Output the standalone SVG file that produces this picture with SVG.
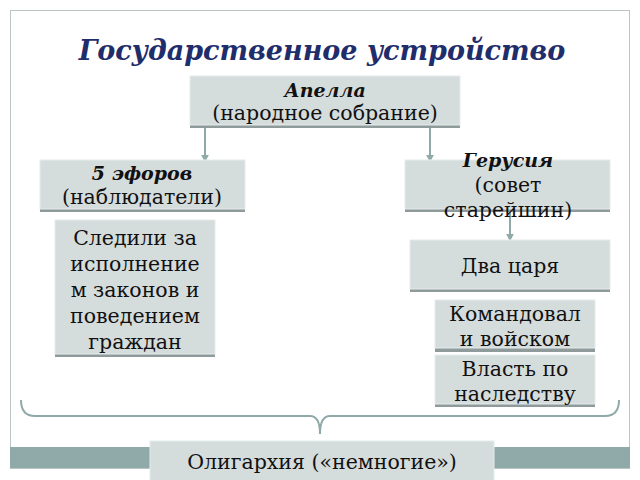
<svg xmlns="http://www.w3.org/2000/svg" width="640" height="480" viewBox="0 0 640 480">
<defs>
<style>
.b{fill:#d5dcdc;stroke:#e6ecec;stroke-width:1}
.s{fill:#8f9a9a}
text{font-family:"DejaVu Serif",serif;font-size:20.5px;fill:#111;text-anchor:middle}
.bi{font-weight:bold;font-style:italic;font-size:19px}
.c{stroke:#8faaa9;stroke-width:2;fill:none}
</style>
<marker id="a" viewBox="0 0 10 10" refX="8" refY="5" markerWidth="4" markerHeight="4" orient="auto"><path d="M0,0L10,5L0,10z" fill="#8faaa9"/></marker>
</defs>
<rect width="640" height="480" fill="#fff"/>
<rect x="10.5" y="10.5" width="619" height="458" fill="none" stroke="#b9c4c4"/>
<rect x="10" y="447" width="620" height="21" fill="#8faaa9"/>
<text x="322" y="60" class="bi" style="font-size:27px;fill:#1f2d6b">Государственное устройство</text>
<g id="conn">
<line class="c" x1="205" y1="127" x2="205" y2="161" marker-end="url(#a)"/>
<line class="c" x1="430" y1="127" x2="430" y2="161" marker-end="url(#a)"/>
<line class="c" x1="510" y1="212" x2="510" y2="240" marker-end="url(#a)"/>
<path class="c" d="M21,400 Q21,416 35,416 L310,416 Q320,416 320,434 Q320,416 330,416 L605,416 Q619,416 619,400"/>
</g>
<g id="apella"><rect class="s" x="190" y="78" width="270" height="50"/><rect class="b" x="190" y="76" width="270" height="49"/><text x="325" y="97" class="bi">Апелла</text><text x="325" y="120">(народное собрание)</text></g>
<g id="ephors"><rect class="s" x="40" y="162" width="205" height="50"/><rect class="b" x="40" y="160" width="205" height="49"/><text x="142" y="180" class="bi">5 эфоров</text><text x="142" y="204">(наблюдатели)</text></g>
<g id="gerusia"><rect class="s" x="405" y="162" width="205" height="50"/><rect class="b" x="405" y="160" width="205" height="49"/><text x="508" y="167" class="bi">Герусия</text><text x="508" y="192">(совет</text><text x="508" y="217">старейшин)</text></g>
<g id="sledili"><rect class="s" x="55" y="222" width="160" height="135"/><rect class="b" x="55" y="220" width="160" height="134"/><text x="135" y="245">Следили за</text><text x="135" y="271">исполнение</text><text x="135" y="297">м законов и</text><text x="135" y="323">поведением</text><text x="135" y="349">граждан</text></g>
<g id="kings"><rect class="s" x="410" y="242" width="200" height="50"/><rect class="b" x="410" y="240" width="200" height="49"/><text x="510" y="273">Два царя</text></g>
<g id="command"><rect class="s" x="435" y="302" width="160" height="50"/><rect class="b" x="435" y="300" width="160" height="48"/><text x="515" y="321">Командовал</text><text x="515" y="346">и войском</text></g>
<g id="power"><rect class="s" x="435" y="357" width="160" height="50"/><rect class="b" x="435" y="355" width="160" height="49"/><text x="515" y="376">Власть по</text><text x="515" y="401">наследству</text></g>
<g id="olig"><rect class="b" x="150" y="441" width="344" height="40"/><text x="322" y="469">Олигархия («немногие»)</text></g>
</svg>
